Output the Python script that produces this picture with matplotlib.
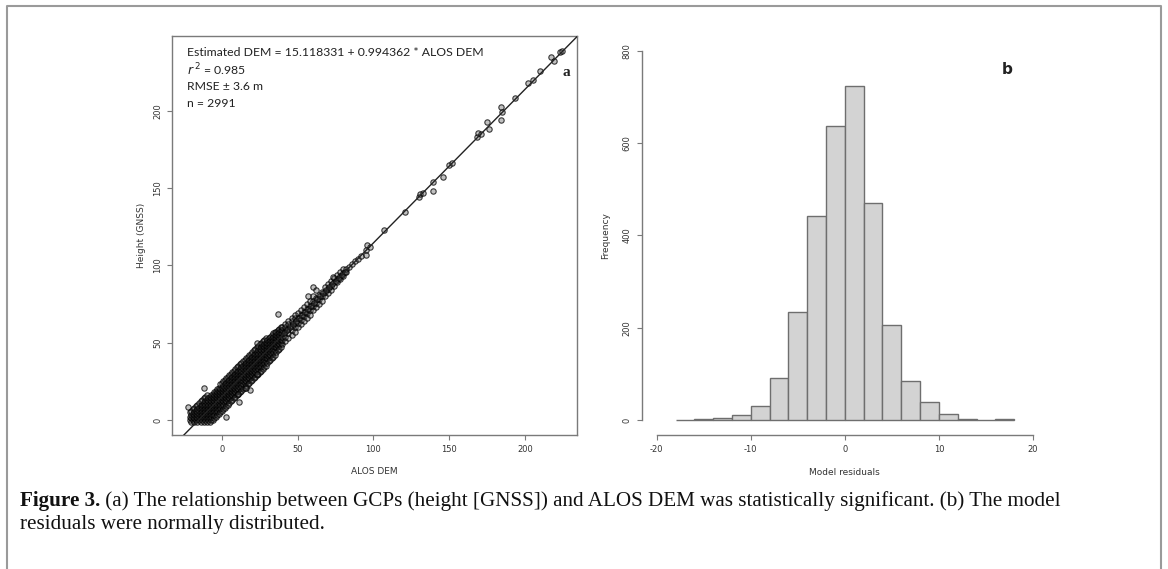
import matplotlib
matplotlib.use('Agg')
import matplotlib.pyplot as plt
from matplotlib.lines import Line2D

plt.rcParams['axes.unicode_minus'] = False

# ---- data ----
# panel a, dense part: (ALOS DEM, [GNSS heights at that DEM value])
dense_cols = [
    (-21, [0, 2, 5]),
    (-20, [-1, 1, 3, 6]),
    (-19, [0, 2, 4, 7]),
    (-18, [-1, 1, 3, 5, 8]),
    (-17, [0, 2, 4, 6, 9]),
    (-16, [-1, 1, 3, 5, 7, 10]),
    (-15, [0, 2, 4, 6, 8, 11]),
    (-14, [-1, 1, 3, 5, 7, 9, 12]),
    (-13, [0, 2, 4, 6, 8, 10, 13]),
    (-12, [-1, 1, 3, 5, 7, 9, 11, 14]),
    (-11, [0, 2, 4, 6, 8, 10, 12, 15]),
    (-10, [-1, 1, 3, 5, 7, 9, 11, 13, 16]),
    (-9, [0, 2, 4, 6, 8, 10, 12, 14]),
    (-8, [-1, 1, 3, 5, 7, 9, 11, 13, 15]),
    (-7, [0, 2, 4, 6, 8, 10, 12, 14, 16]),
    (-6, [0, 3, 5, 7, 9, 11, 13, 15, 17]),
    (-5, [1, 3, 6, 8, 10, 12, 14, 16, 18]),
    (-4, [2, 5, 7, 9, 11, 13, 15, 17, 19]),
    (-3, [3, 6, 8, 10, 12, 14, 16, 18, 20]),
    (-2, [4, 7, 9, 11, 13, 15, 17, 19, 21]),
    (-1, [5, 8, 10, 12, 14, 16, 18, 20, 23]),
    (0, [6, 9, 11, 13, 15, 17, 19, 21, 24]),
    (1, [7, 10, 12, 14, 16, 18, 20, 22, 25]),
    (2, [8, 11, 13, 15, 17, 19, 21, 23, 26]),
    (3, [9, 12, 14, 16, 18, 20, 22, 24, 27]),
    (4, [10, 13, 15, 17, 19, 21, 23, 25, 28]),
    (5, [11, 14, 16, 18, 20, 22, 24, 26, 29]),
    (6, [12, 15, 17, 19, 21, 23, 25, 27, 30]),
    (7, [13, 16, 18, 20, 22, 24, 26, 28, 31]),
    (8, [14, 17, 19, 21, 23, 25, 27, 29, 32]),
    (9, [15, 18, 20, 22, 24, 26, 28, 30, 33]),
    (10, [16, 19, 21, 23, 25, 27, 29, 31, 34]),
    (11, [17, 20, 22, 24, 26, 28, 30, 32, 35]),
    (12, [18, 21, 23, 25, 27, 29, 31, 33, 36]),
    (13, [19, 22, 24, 26, 28, 30, 32, 34, 37]),
    (14, [20, 23, 25, 27, 29, 31, 33, 35, 38]),
    (15, [21, 24, 26, 28, 30, 32, 34, 36, 39]),
    (16, [22, 25, 27, 29, 31, 33, 35, 37, 40]),
    (17, [23, 26, 28, 30, 32, 34, 36, 38, 41]),
    (18, [24, 27, 29, 31, 33, 35, 37, 39, 42]),
    (19, [25, 28, 30, 32, 34, 36, 38, 40, 43]),
    (20, [26, 29, 31, 33, 35, 37, 39, 41, 44]),
    (21, [27, 30, 32, 34, 36, 38, 40, 42, 45]),
    (22, [28, 31, 33, 35, 37, 39, 41, 43, 46]),
    (23, [29, 32, 34, 36, 38, 40, 42, 44, 47]),
    (24, [30, 33, 35, 37, 39, 41, 43, 45, 48]),
    (25, [31, 34, 36, 38, 40, 42, 44, 46, 49]),
    (26, [32, 35, 37, 39, 41, 43, 45, 47, 50]),
    (27, [33, 36, 38, 40, 42, 44, 46, 48, 51]),
    (28, [34, 37, 39, 41, 43, 45, 47, 49, 52]),
    (29, [35, 38, 40, 42, 44, 46, 48, 50, 53]),
    (30, [37, 40, 42, 44, 46, 48, 50, 52]),
    (31, [38, 41, 43, 45, 47, 49, 51, 53]),
    (32, [39, 42, 44, 46, 48, 50, 52, 54]),
    (33, [40, 43, 45, 47, 49, 51, 53, 55]),
    (34, [41, 44, 46, 48, 50, 52, 54, 56]),
    (35, [42, 45, 47, 49, 51, 53, 55, 57]),
    (36, [44, 47, 49, 51, 53, 55, 57]),
    (37, [45, 48, 50, 52, 54, 56, 58]),
    (38, [46, 49, 51, 53, 55, 57, 59]),
    (39, [47, 50, 52, 54, 56, 58, 60]),
    (40, [49, 52, 54, 56, 58, 60]),
    (42, [51, 54, 57, 60, 62]),
    (44, [53, 56, 59, 62, 64]),
    (46, [55, 58, 61, 64, 66]),
    (48, [57, 60, 63, 66, 68]),
    (50, [60, 63, 66, 69]),
    (52, [62, 65, 68, 71]),
    (54, [64, 67, 70, 73]),
    (56, [66, 69, 72, 75]),
    (58, [68, 71, 74, 77]),
    (60, [71, 74, 77, 80]),
    (62, [73, 76, 79]),
    (64, [75, 78, 81]),
    (66, [77, 80, 83]),
    (68, [80, 83, 86]),
    (70, [82, 85, 88]),
    (72, [84, 87, 90]),
    (74, [87, 89, 92]),
    (76, [89, 91, 94]),
    (78, [91, 93, 96]),
    (80, [93, 95, 98]),
    (82, [96, 98]),
]
# panel a, scattered points and outliers
sparse_dem = [-22.5, -11.5, 2.6, 11, 18.7, 16, 11.6, 23, 37, 23, 60, 62, 57, 73.4, 41, 43, 45, 47,
              49, 51, 53, 55, 57, 59, 61, 63, 65, 67, 69, 71, 73, 75, 77, 79, 81,
              84, 86, 88, 90, 92, 95, 96, 95, 98, 107, 121, 130, 131, 133, 139, 139, 146, 150, 152,
              168, 169, 171, 175, 176, 184, 184, 185, 193, 202, 205, 210, 217, 219, 223, 224]
sparse_gnss = [8.5, 20.5, 2, 17, 19.4, 21, 11.8, 30, 68.5, 50, 86, 84, 80, 92.7, 56, 58, 60, 62,
               64, 66, 68, 70, 72, 74, 76, 78, 80, 82, 84, 86, 88, 90, 92, 94, 96,
               99, 101, 103, 104, 106, 110, 113, 106.7, 112, 123, 134.7, 144.4, 146, 147, 148, 154,
               157, 165, 166, 183, 185.6, 185, 193, 188, 193.8, 202.6, 199, 208, 218, 220, 225.8,
               235, 232, 238, 239]
intercept = 15.118331
slope = 0.994362

# panel b: histogram of model residuals
bin_edges = [-18, -16, -14, -12, -10, -8, -6, -4, -2, 0, 2, 4, 6, 8, 10, 12, 14, 16, 18]
counts = [1, 2, 4, 11, 30, 92, 233, 442, 637, 724, 470, 205, 85, 38, 12, 2, 1, 2]

annot_lines = ['Estimated DEM = 15.118331 + 0.994362 * ALOS DEM',
               r'$r^{\,2}$ = 0.985',
               'RMSE ± 3.6 m',
               'n = 2991']
caption_bold = 'Figure 3.'
caption_1 = (' (a) The relationship between GCPs (height [GNSS]) and ALOS DEM was '
             'statistically significant. (b) The model')
caption_2 = 'residuals were normally distributed.'

alos_dem = [x for x, ys in dense_cols for _ in ys] + sparse_dem
height_gnss = [y for _, ys in dense_cols for y in ys] + sparse_gnss

W, H = 1168, 569
fig = plt.figure(figsize=(W / 100, H / 100), dpi=100)
fig.patch.set_facecolor('white')


def fx(px):
    return px / W


def fy(py):
    return 1 - py / H


axis_col = '#7a7a7a'
text_col = '#333333'
tick_fs = 6
label_fs = 6.5


def r_style(ax):
    ax.tick_params(direction='out', length=3.6, width=0.8, color=axis_col,
                   labelsize=tick_fs, labelcolor=text_col, pad=3.5)
    ax.tick_params(axis='y', labelrotation=90)
    for lab in ax.get_yticklabels():
        lab.set_va('center')


# ---- panel a ----
ax1 = fig.add_axes([fx(172.3), fy(435), fx(576.7) - fx(172.3), fy(35.7) - fy(435)])
ax1.scatter(alos_dem, height_gnss, s=15, facecolors=(0.3, 0.3, 0.3, 0.35),
            edgecolors=(0, 0, 0, 0.75), linewidths=0.8, zorder=2)
ax1.axline((0, intercept), slope=slope, color='#222222', lw=1.0, zorder=3)
ax1.set_xlim(-32.6, 234)
ax1.set_ylim(-9.7, 248.6)
ax1.set_xticks([0, 50, 100, 150, 200])
ax1.set_yticks([0, 50, 100, 150, 200])
for s in ax1.spines.values():
    s.set_color(axis_col)
    s.set_linewidth(1.0)
r_style(ax1)
ax1.set_xlabel('ALOS DEM', fontsize=label_fs, color=text_col)
ax1.set_ylabel('Height (GNSS)', fontsize=label_fs, color=text_col)
ax1.xaxis.set_label_coords(0.5, -37 / 399.3)
ax1.yaxis.set_label_coords(-31 / 404.4, 0.5)
ax1.xaxis.label.set_va('center')
ax1.yaxis.label.set_va('center')

for i, line in enumerate(annot_lines):
    fig.text(fx(187), fy(53 + i * 16.7), line, fontsize=8.85, family='Lato',
             color='#222222', va='center', ha='left')
fig.text(fx(566), fy(72), 'a', fontsize=11, family='Liberation Serif',
         weight='bold', color='#222222', va='center', ha='center')

# ---- panel b ----
ax2 = fig.add_axes([fx(641.7), fy(434.8), fx(1048) - fx(641.7), fy(36) - fy(434.8)])
widths = [bin_edges[i + 1] - bin_edges[i] for i in range(len(counts))]
ax2.bar(bin_edges[:-1], counts, width=widths, align='edge', color='#d3d3d3',
        edgecolor='#6e6e6e', linewidth=1.0, zorder=2)
ax2.set_xlim(-21.6, 21.6)
ax2.set_ylim(-32, 832)
ax2.set_xticks([-20, -10, 0, 10, 20])
ax2.set_yticks([0, 200, 400, 600, 800])
ax2.spines['top'].set_visible(False)
ax2.spines['right'].set_visible(False)
ax2.spines['bottom'].set_bounds(-20, 20)
ax2.spines['left'].set_bounds(0, 800)
for s in ax2.spines.values():
    s.set_color(axis_col)
    s.set_linewidth(1.0)
r_style(ax2)
ax2.set_xlabel('Model residuals', fontsize=label_fs, color=text_col)
ax2.set_ylabel('Frequency', fontsize=label_fs, color=text_col)
ax2.xaxis.set_label_coords(0.5, -38 / 398.8)
ax2.yaxis.set_label_coords(-36 / 406.3, 0.5)
ax2.xaxis.label.set_va('center')
ax2.yaxis.label.set_va('center')
fig.text(fx(1007), fy(70), 'b', fontsize=11, family='DejaVu Sans',
         weight='bold', color='#222222', va='center', ha='center')

# ---- outer frame ----
frame = Line2D([fx(7), fx(7), fx(1161), fx(1161)], [0, fy(6), fy(6), 0],
               transform=fig.transFigure, color='#9a9a9a', lw=1.5)
fig.add_artist(frame)

# ---- caption ----
cap_fs = 15.2
t_bold = fig.text(fx(20), fy(501), caption_bold, fontsize=cap_fs, family='Liberation Serif',
                  weight='bold', color='#111111', va='center', ha='left')
fig.canvas.draw()
bb = t_bold.get_window_extent()
fig.text(bb.x1 / W, fy(501), caption_1, fontsize=cap_fs, family='Liberation Serif',
         color='#111111', va='center', ha='left')
fig.text(fx(20), fy(525), caption_2, fontsize=cap_fs, family='Liberation Serif',
         color='#111111', va='center', ha='left')

fig.savefig('out.png', dpi=100)
